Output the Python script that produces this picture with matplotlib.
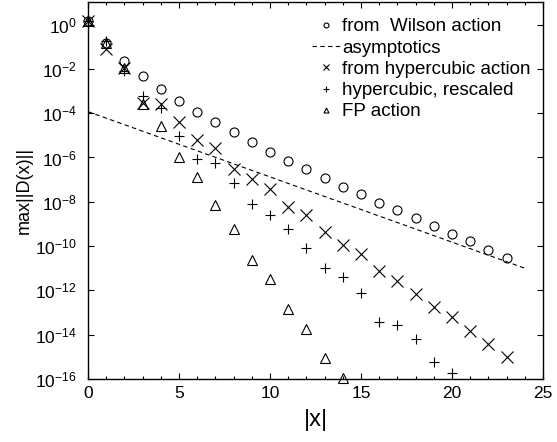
import matplotlib
matplotlib.use('Agg')
import matplotlib.pyplot as plt
from matplotlib.ticker import FixedLocator, MultipleLocator, FixedFormatter

plt.rcParams['font.family'] = ['Liberation Sans', 'DejaVu Sans']
plt.rcParams['mathtext.fontset'] = 'custom'
plt.rcParams['mathtext.rm'] = 'Liberation Sans'
plt.rcParams['mathtext.it'] = 'Liberation Sans'

# log10 of max||D(x)||
x_wil = list(range(0, 24))
lg_wil = [0.18, -0.82, -1.63, -2.31, -2.89, -3.43, -3.93, -4.42, -4.87, -5.32,
          -5.77, -6.18, -6.54, -6.92, -7.31, -7.67, -8.07, -8.39, -8.75, -9.11,
          -9.47, -9.78, -10.19, -10.55]

x_hyp = list(range(0, 24))
lg_hyp = [0.18, -1.09, -1.95, -3.52, -3.57, -4.38, -5.19, -5.55, -6.5, -6.99,
          -7.4, -8.25, -8.58, -9.38, -9.96, -10.37, -11.14, -11.59, -12.17, -12.76,
          -13.21, -13.84, -14.42, -15.01]

x_res = list(range(0, 21))
lg_res = [0.18, -0.73, -2.08, -3.21, -3.76, -5.01, -6.05, -6.27, -7.13, -8.12,
          -8.61, -9.24, -10.1, -11.0, -11.41, -12.13, -13.43, -13.57, -14.2, -15.23,
          -15.73]

x_fp = list(range(0, 15))
lg_fp = [0.18, -0.82, -1.95, -3.57, -4.56, -6.0, -6.9, -8.16, -9.24, -10.64,
         -11.5, -12.85, -13.75, -15.05, -15.95]

x_asy = [0, 24]
lg_asy = [-3.93, -11.0]

ytick_exp = [0, -2, -4, -6, -8, -10, -12, -14, -16]

fig = plt.figure(figsize=(5.57, 4.42), dpi=100)
ax = fig.add_axes([0.158, 0.1425, 0.817, 0.852])

p = lambda v: [10.0 ** e for e in v]

ax.plot(x_wil, p(lg_wil), 'o', mfc='none', mec='k', ms=6.5, mew=0.8,
        label='from  Wilson action', clip_on=False)
ax.plot(x_asy, p(lg_asy), '--', color='k', lw=0.8, dashes=(4, 3),
        label='asymptotics')
ax.plot(x_hyp, p(lg_hyp), 'x', color='k', ms=8, mew=0.8,
        label='from hypercubic action', clip_on=False)
ax.plot(x_res, p(lg_res), '+', color='k', ms=7, mew=0.8,
        label='hypercubic, rescaled', clip_on=False)
ax.plot(x_fp, p(lg_fp), '^', mfc='none', mec='k', ms=6.5, mew=0.8,
        label='FP action', clip_on=False)

ax.set_yscale('log')
ax.set_xlim(0, 25)
ax.set_ylim(1e-16, 1e1)

ax.xaxis.set_major_locator(MultipleLocator(5))
ax.xaxis.set_minor_locator(MultipleLocator(1))
ax.yaxis.set_major_locator(FixedLocator([10.0 ** e for e in ytick_exp]))
ax.yaxis.set_major_formatter(FixedFormatter(['$10^{%d}$' % e for e in ytick_exp]))
ax.yaxis.set_minor_locator(FixedLocator([]))

ax.tick_params(which='both', direction='in', top=True, right=True, width=0.8)
ax.tick_params(which='major', length=4, labelsize=12.5, pad=5)
ax.tick_params(which='minor', length=2.5)
ax.tick_params(axis='y', pad=8)
for s in ax.spines.values():
    s.set_linewidth(1.0)

ax.set_xlabel('|x|', fontsize=17, labelpad=6)
ax.set_ylabel('max||D(x)||', fontsize=13, labelpad=2)

ax.legend(loc='upper right', frameon=False, fontsize=13.5, markerscale=0.55,
          handlelength=1.5, handletextpad=0.1, labelspacing=0.22,
          borderaxespad=0.2, bbox_to_anchor=(0.998, 0.988))

fig.savefig('out.png', dpi=100)
